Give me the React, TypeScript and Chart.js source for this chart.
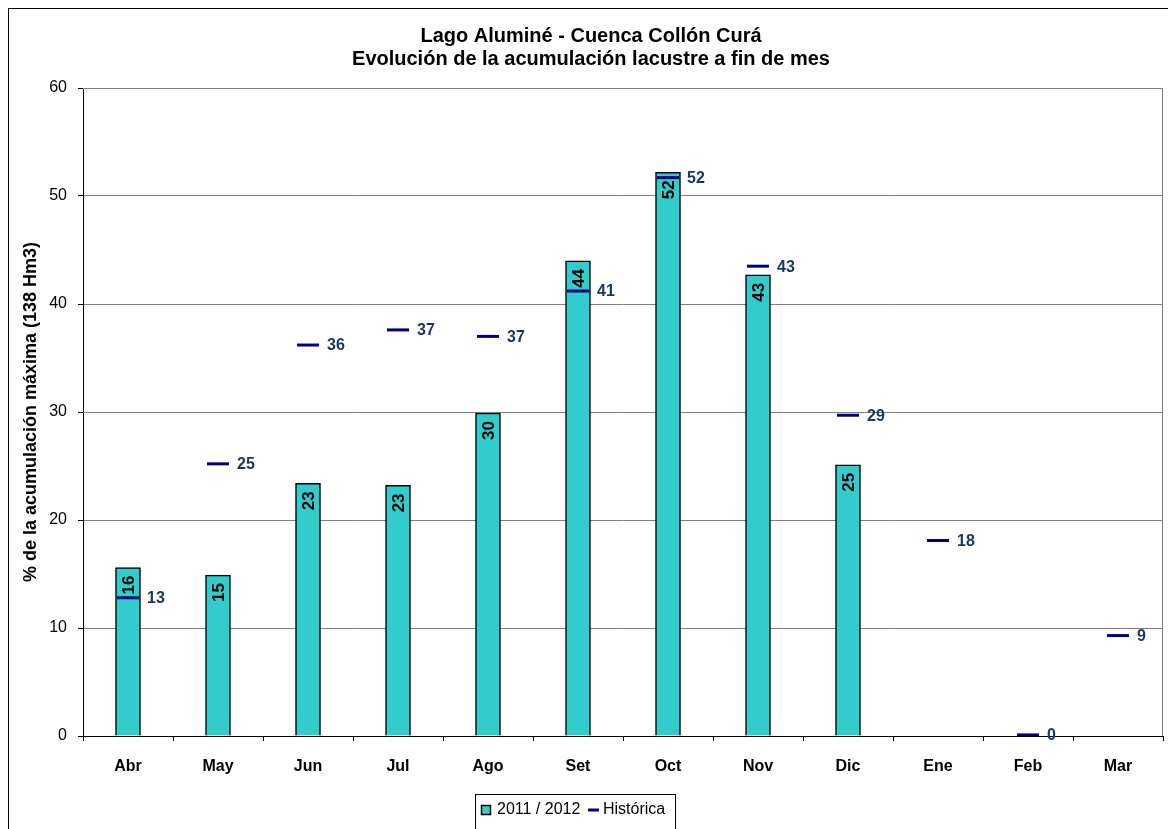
import React, { useEffect, useRef } from "react";
import { Chart, registerables } from "chart.js";

Chart.register(...registerables);

const months = ["Abr", "May", "Jun", "Jul", "Ago", "Set", "Oct", "Nov", "Dic", "Ene", "Feb", "Mar"];
const season = [15.6, 14.9, 23.4, 23.2, 29.9, 44.0, 52.2, 42.7, 25.1, null, null, null];
const seasonLabels = ["16", "15", "23", "23", "30", "44", "52", "43", "25", "", "", ""];
const historic = [12.8, 25.2, 36.2, 37.6, 37.0, 41.2, 51.7, 43.5, 29.7, 18.1, 0.1, 9.3];
const historicLabels = ["13", "25", "36", "37", "37", "41", "52", "43", "29", "18", "0", "9"];
const yTicks = [0, 10, 20, 30, 40, 50, 60];

const FONT = "Arial, 'Liberation Sans', sans-serif";
const W = 1180;
const H = 830;

const decorPlugin = {
  id: "decor",
  beforeDatasetsDraw(chart: any) {
    const { ctx, chartArea } = chart;
    ctx.save();
    ctx.strokeStyle = "#808080";
    ctx.lineWidth = 1;
    ctx.beginPath();
    ctx.moveTo(chartArea.left, chartArea.top + 0.5);
    ctx.lineTo(chartArea.right - 0.5, chartArea.top + 0.5);
    ctx.lineTo(chartArea.right - 0.5, chartArea.bottom);
    ctx.stroke();
    ctx.restore();
  },
  afterDraw(chart: any) {
    const ctx = chart.ctx;
    ctx.save();

    // outer frame
    ctx.fillStyle = "#000000";
    ctx.fillRect(0, 0, W, 1);
    ctx.fillRect(0, 0, 1, H);

    // bar labels
    const barMeta = chart.getDatasetMeta(0);
    ctx.font = `bold 17px ${FONT}`;
    ctx.fillStyle = "#000000";
    barMeta.data.forEach((el: any, i: number) => {
      const v = season[i];
      if (v === null || v === undefined) return;
      ctx.save();
      ctx.translate(el.x, el.y + 8);
      ctx.rotate(-Math.PI / 2);
      ctx.textAlign = "right";
      ctx.textBaseline = "middle";
      ctx.fillText(seasonLabels[i], 0, 1);
      ctx.restore();
    });

    // historic labels
    const lineMeta = chart.getDatasetMeta(1);
    ctx.font = `bold 16px ${FONT}`;
    ctx.fillStyle = "#17375E";
    ctx.textAlign = "left";
    ctx.textBaseline = "middle";
    lineMeta.data.forEach((el: any, i: number) => {
      ctx.fillText(historicLabels[i], el.x + 19, el.y + 1);
    });

    // legend
    const lx = 467;
    const ly = 786;
    ctx.strokeStyle = "#000000";
    ctx.lineWidth = 1;
    ctx.strokeRect(lx + 0.5, ly + 0.5, 200, 60);
    ctx.fillStyle = "#33CCCC";
    ctx.fillRect(lx + 6, ly + 11, 10, 10);
    ctx.lineWidth = 1.5;
    ctx.strokeRect(lx + 6.5, ly + 11.5, 9, 9);
    ctx.fillStyle = "#000000";
    ctx.font = `16px ${FONT}`;
    ctx.textAlign = "left";
    ctx.textBaseline = "middle";
    ctx.fillText("2011 / 2012", lx + 22, ly + 16);
    ctx.strokeStyle = "#000080";
    ctx.lineWidth = 3;
    ctx.beginPath();
    ctx.moveTo(lx + 113, ly + 16);
    ctx.lineTo(lx + 124, ly + 16);
    ctx.stroke();
    ctx.fillText("Histórica", lx + 128, ly + 16);
    ctx.restore();
  },
};

export default function App() {
  const ref = useRef<HTMLCanvasElement | null>(null);

  useEffect(() => {
    document.body.style.overflow = "hidden";
    const canvas = ref.current;
    if (!canvas) return;
    const chart = new Chart(canvas, {
      type: "bar",
      data: {
        labels: months,
        datasets: [
          {
            type: "bar",
            label: "2011 / 2012",
            data: season as any,
            backgroundColor: "#33CCCC",
            borderColor: "#000000",
            borderWidth: 1.5,
            barThickness: 25,
            order: 2,
          },
          {
            type: "line",
            label: "Histórica",
            data: historic,
            showLine: false,
            pointStyle: "line",
            pointRadius: 11,
            pointHoverRadius: 11,
            pointBorderWidth: 3,
            borderColor: "#000080",
            backgroundColor: "#000080",
            order: 1,
          } as any,
        ],
      },
      options: {
        responsive: false,
        animation: false,
        devicePixelRatio: 1,
        layout: { padding: { left: 11, right: 25, top: 0, bottom: 52 } },
        plugins: {
          legend: { display: false },
          tooltip: { enabled: false },
          title: {
            display: true,
            text: ["Lago Aluminé - Cuenca Collón Curá", "Evolución de la acumulación lacustre a fin de mes"],
            color: "#000000",
            font: { family: FONT, size: 20, weight: "bold", lineHeight: "23px" } as any,
            padding: { top: 17, bottom: 17 },
          },
        },
        scales: {
          x: {
            offset: true,
            grid: {
              display: true,
              offset: true,
              drawOnChartArea: false,
              drawTicks: true,
              tickLength: 5,
              tickColor: "#000000",
            },
            border: { display: true, color: "#000000", width: 1 },
            ticks: {
              color: "#000000",
              font: { family: FONT, size: 16, weight: "bold" },
              padding: 16,
              maxRotation: 0,
            },
            afterFit(scale: any) {
              scale.height = 50;
            },
          },
          y: {
            min: 0,
            max: 60,
            afterBuildTicks(scale: any) {
              scale.ticks = yTicks.map((v) => ({ value: v }));
            },
            grid: {
              color: "#808080",
              lineWidth: 1,
              drawTicks: true,
              tickLength: 5,
              tickColor: "#000000",
            },
            border: { display: true, color: "#000000", width: 1 },
            ticks: {
              color: "#000000",
              font: { family: FONT, size: 16 },
              padding: 11,
            },
            title: {
              display: true,
              text: "% de la acumulación máxima (138 Hm3)",
              color: "#000000",
              font: { family: FONT, size: 18, weight: "bold" },
              padding: { top: 1, bottom: 0 },
            },
            afterFit(scale: any) {
              scale.width = 64;
            },
          },
        },
      },
      plugins: [decorPlugin],
    });
    return () => chart.destroy();
  }, []);

  return (
    <div style={{ position: "relative", width: W, height: H }}>
      <canvas ref={ref} width={W} height={H} style={{ display: "block", width: W, height: H }} />
    </div>
  );
}
